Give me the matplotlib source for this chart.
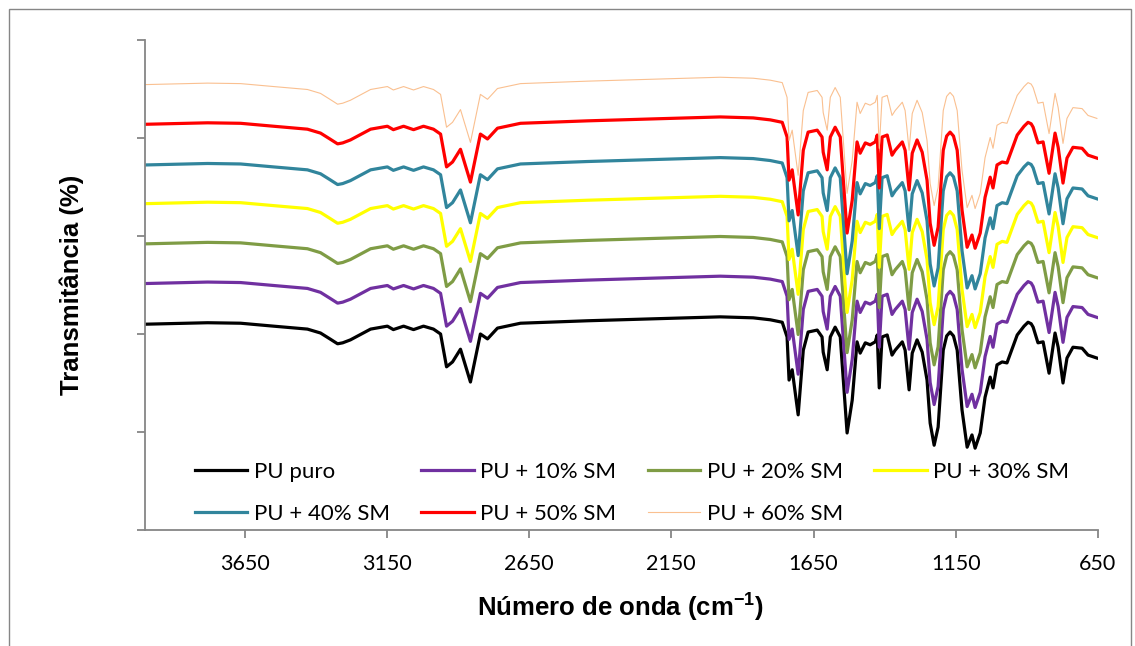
import matplotlib
matplotlib.use('Agg')
import matplotlib.pyplot as plt
from matplotlib.patches import Rectangle
import numpy as np

# FTIR spectra (PU + SM), stacked with a vertical offset
wavenumber = [3998, 3780, 3664, 3548, 3429, 3383, 3350, 3323, 3305, 3278,
              3207, 3148, 3127, 3091, 3056, 3021, 2986, 2961, 2940, 2919,
              2891, 2856, 2821, 2796, 2761, 2680, 2445, 2213, 1978, 1862,
              1802, 1760, 1743, 1736, 1725, 1704, 1686, 1669, 1637, 1620,
              1616, 1602, 1591, 1574, 1556, 1532, 1514, 1497, 1486, 1468,
              1451, 1433, 1426, 1419, 1409, 1391, 1374, 1363, 1338, 1328,
              1314, 1303, 1286, 1268, 1251, 1240, 1226, 1212, 1194, 1182,
              1170, 1158, 1145, 1128, 1110, 1093, 1082, 1064, 1047, 1029,
              1019, 1005, 987, 970, 934, 910, 896, 885, 878, 861,
              843, 822, 801, 790, 773, 759, 738, 706, 685, 654]

base_transmittance = [42.0, 42.3, 42.2, 41.6, 41.0, 40.2, 39.0, 38.0, 38.2, 38.8,
                      41.0, 41.6, 40.9, 41.6, 40.9, 41.6, 41.0, 40.0, 33.3, 34.3,
                      36.9, 30.2, 40.0, 39.0, 41.2, 42.2, 42.7, 43.1, 43.5, 43.3,
                      42.9, 42.4, 39.4, 30.6, 32.7, 23.5, 36.7, 40.4, 40.8, 39.4,
                      36.3, 32.7, 39.4, 41.4, 39.4, 19.8, 26.5, 38.4, 36.1, 38.2,
                      37.8, 38.4, 39.8, 29.0, 39.4, 39.8, 35.7, 36.7, 38.4, 36.7,
                      28.6, 36.1, 38.8, 36.3, 30.6, 21.8, 17.3, 21.0, 36.7, 39.6,
                      40.4, 39.6, 36.7, 24.5, 16.9, 19.4, 16.7, 19.8, 27.1, 31.2,
                      29.0, 33.7, 34.3, 34.1, 39.8, 41.6, 42.4, 42.1, 41.4, 38.2,
                      38.4, 32.0, 40.2, 37.3, 30.0, 35.1, 37.3, 37.1, 35.7, 35.1]

labels = ['PU puro', 'PU + 10% SM', 'PU + 20% SM', 'PU + 30% SM',
          'PU + 40% SM', 'PU + 50% SM', 'PU + 60% SM']
offsets = [0, 8.3, 16.4, 24.6, 32.5, 40.8, 48.9]
colors = ['#000000', '#7030A0', '#7F9C45', '#FFFF00', '#31859C', '#FF0000', '#FAC090']
widths = [2.3, 2.3, 2.3, 2.3, 2.3, 2.3, 0.8]

x_ticks = [3650, 3150, 2650, 2150, 1650, 1150, 650]

fig = plt.figure(figsize=(11.35, 6.46), dpi=100)
ax = fig.add_axes([145 / 1135, 1 - 530 / 646, 953 / 1135, 490 / 646])

# chart area border
fig.patches.append(Rectangle((9 / 1135, -0.02), 1122 / 1135, 1.02 - 9 / 646,
                             transform=fig.transFigure, fill=False,
                             edgecolor='#868686', linewidth=1.0))

wn = np.array(wavenumber)
base = np.array(base_transmittance)
handles = []
for lab, off, c, lw in zip(labels, offsets, colors, widths):
    h, = ax.plot(wn, base + off, color=c, linewidth=lw, label=lab,
                 solid_joinstyle='round')
    handles.append(h)

ax.set_xlim(4000, 650)
ax.set_ylim(0, 100)
ax.set_xticks(x_ticks)
ax.set_xticklabels([str(t) for t in x_ticks], family='Lato', fontsize=15.5)
ax.set_yticks([0, 20, 40, 60, 80, 100])
ax.set_yticklabels([])

for s in ['top', 'right']:
    ax.spines[s].set_visible(False)
for s in ['left', 'bottom']:
    ax.spines[s].set_color('#868686')
    ax.spines[s].set_linewidth(1.3)
ax.tick_params(axis='both', direction='out', length=6, width=1.3, color='#868686')
ax.tick_params(axis='x', pad=11)

plt.rcParams['mathtext.fontset'] = 'custom'
plt.rcParams['mathtext.bf'] = 'Liberation Sans:bold'
plt.rcParams['mathtext.rm'] = 'Liberation Sans:bold'

fig.text(620 / 1135, 1 - 607 / 646, r'Número de onda (cm$^{\mathbf{-1}}$)',
         ha='center', va='center', family='Liberation Sans', fontweight='bold',
         fontsize=18.5)
fig.text(72 / 1135, 1 - 285 / 646, 'Transmitância (%)', rotation=90,
         ha='center', va='center', family='Liberation Sans', fontweight='bold',
         fontsize=18.5)

# legend filled column by column -> reorder so rows read left to right
order = [0, 4, 1, 5, 2, 6, 3]
ax.legend([handles[i] for i in order], [labels[i] for i in order],
          loc='lower left', bbox_to_anchor=(0.0525, 0.012), ncol=4,
          frameon=False, borderpad=0, borderaxespad=0, handlelength=2.35,
          handletextpad=0.3, columnspacing=1.42, labelspacing=1.0,
          prop={'family': 'Lato', 'size': 16})

fig.savefig('out.png', dpi=100)
